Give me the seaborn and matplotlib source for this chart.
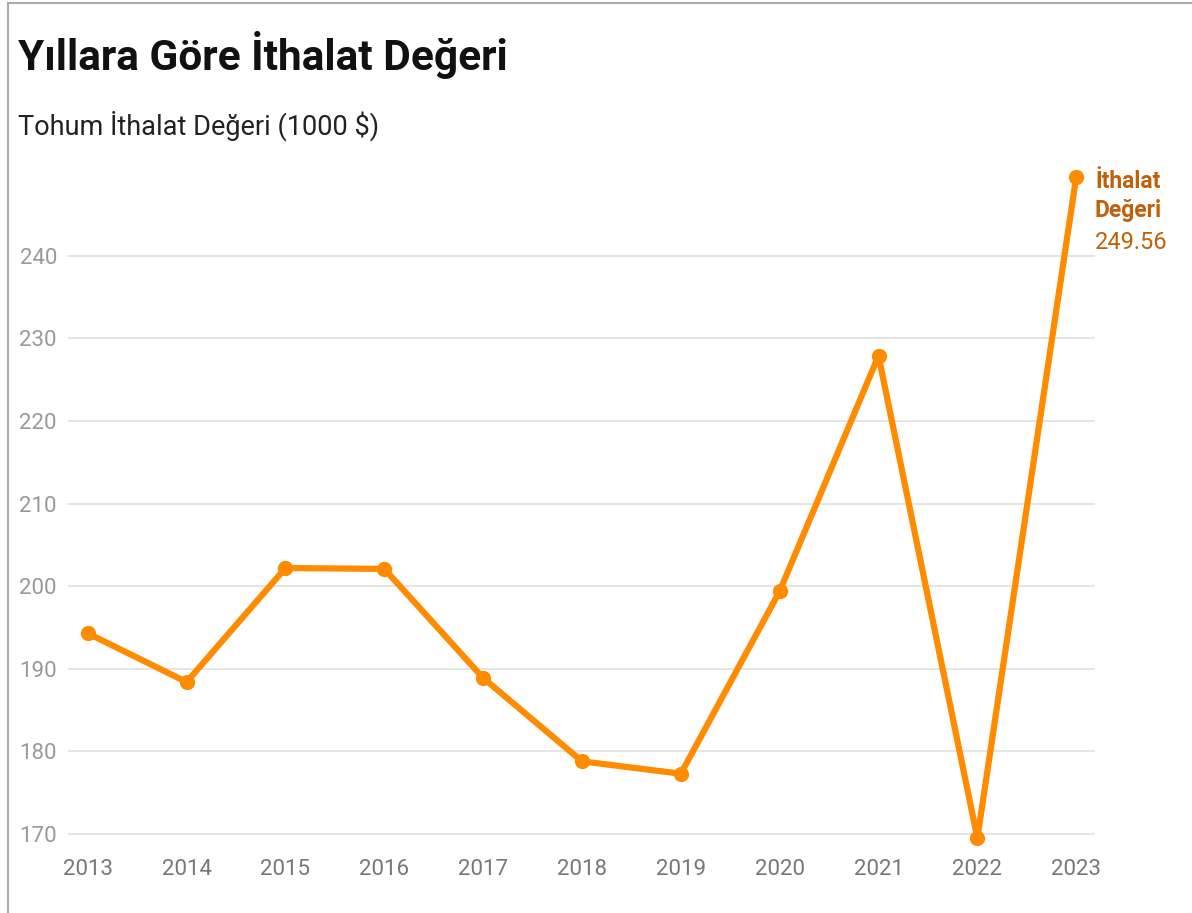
import matplotlib
matplotlib.use("Agg")
import matplotlib.pyplot as plt
import seaborn as sns
import pandas as pd
from matplotlib.lines import Line2D

years = [2013, 2014, 2015, 2016, 2017, 2018, 2019, 2020, 2021, 2022, 2023]
values = [194.3, 188.4, 202.2, 202.1, 188.9, 178.8, 177.3, 199.4, 227.9, 169.5, 249.56]
yticks = [170, 180, 190, 200, 210, 220, 230, 240]

df = pd.DataFrame({"year": years, "value": values})

sns.set_theme(style="white")
plt.rcParams["font.family"] = ["Roboto", "DejaVu Sans"]

fig = plt.figure(figsize=(11.92, 9.13), dpi=100)
ax = fig.add_axes([68 / 1192, 1 - 845 / 913, (1095 - 68) / 1192, (845 - 165) / 913])

orange = "#ff8c00"
sns.lineplot(data=df, x="year", y="value", ax=ax, color=orange, linewidth=4.5,
             marker="o", markersize=11, markeredgewidth=0, clip_on=False)

ax.set_xlim(2012.8, 2023.19)
ax.set_ylim(168.67, 251.0)
ax.set_yticks(yticks)
ax.set_xticks(years)
ax.grid(axis="y", color="#e3e3e3", linewidth=1.3)
ax.grid(axis="x", visible=False)
for s in ax.spines.values():
    s.set_visible(False)
ax.tick_params(axis="y", length=0, pad=8, labelsize=16, labelcolor="#999999")
ax.tick_params(axis="x", length=0, pad=10, labelsize=16, labelcolor="#777777")
ax.set_xlabel("")
ax.set_ylabel("")

# end label
lab_color = "#c0600a"
last = (years[-1], values[-1])
ax.annotate("İthalat", xy=last, xytext=(13.5, -3.6), textcoords="offset points",
            fontsize=16.5, fontweight="bold", color=lab_color, va="center", ha="left")
ax.annotate("Değeri", xy=last, xytext=(13.5, -24.5), textcoords="offset points",
            fontsize=16.5, fontweight="bold", color=lab_color, va="center", ha="left")
ax.annotate(f"{values[-1]:.2f}", xy=last, xytext=(13.5, -47.5), textcoords="offset points",
            fontsize=17, color=lab_color, va="center", ha="left")

fig.text(18 / 1192, 1 - 55 / 913, "Yıllara Göre İthalat Değeri", fontsize=30.5,
         fontweight="bold", color="#111111", va="center", ha="left")
fig.text(18 / 1192, 1 - 126 / 913, "Tohum İthalat Değeri (1000 $)", fontsize=19.5,
         color="#222222", va="center", ha="left")

# frame lines on left and top
fig.add_artist(Line2D([8 / 1192, 8 / 1192], [0, 1 - 3 / 913], color="#aaaaaa", linewidth=1.5))
fig.add_artist(Line2D([8 / 1192, 1], [1 - 3 / 913, 1 - 3 / 913], color="#aaaaaa", linewidth=1.5))

fig.savefig("out.png", dpi=100)
